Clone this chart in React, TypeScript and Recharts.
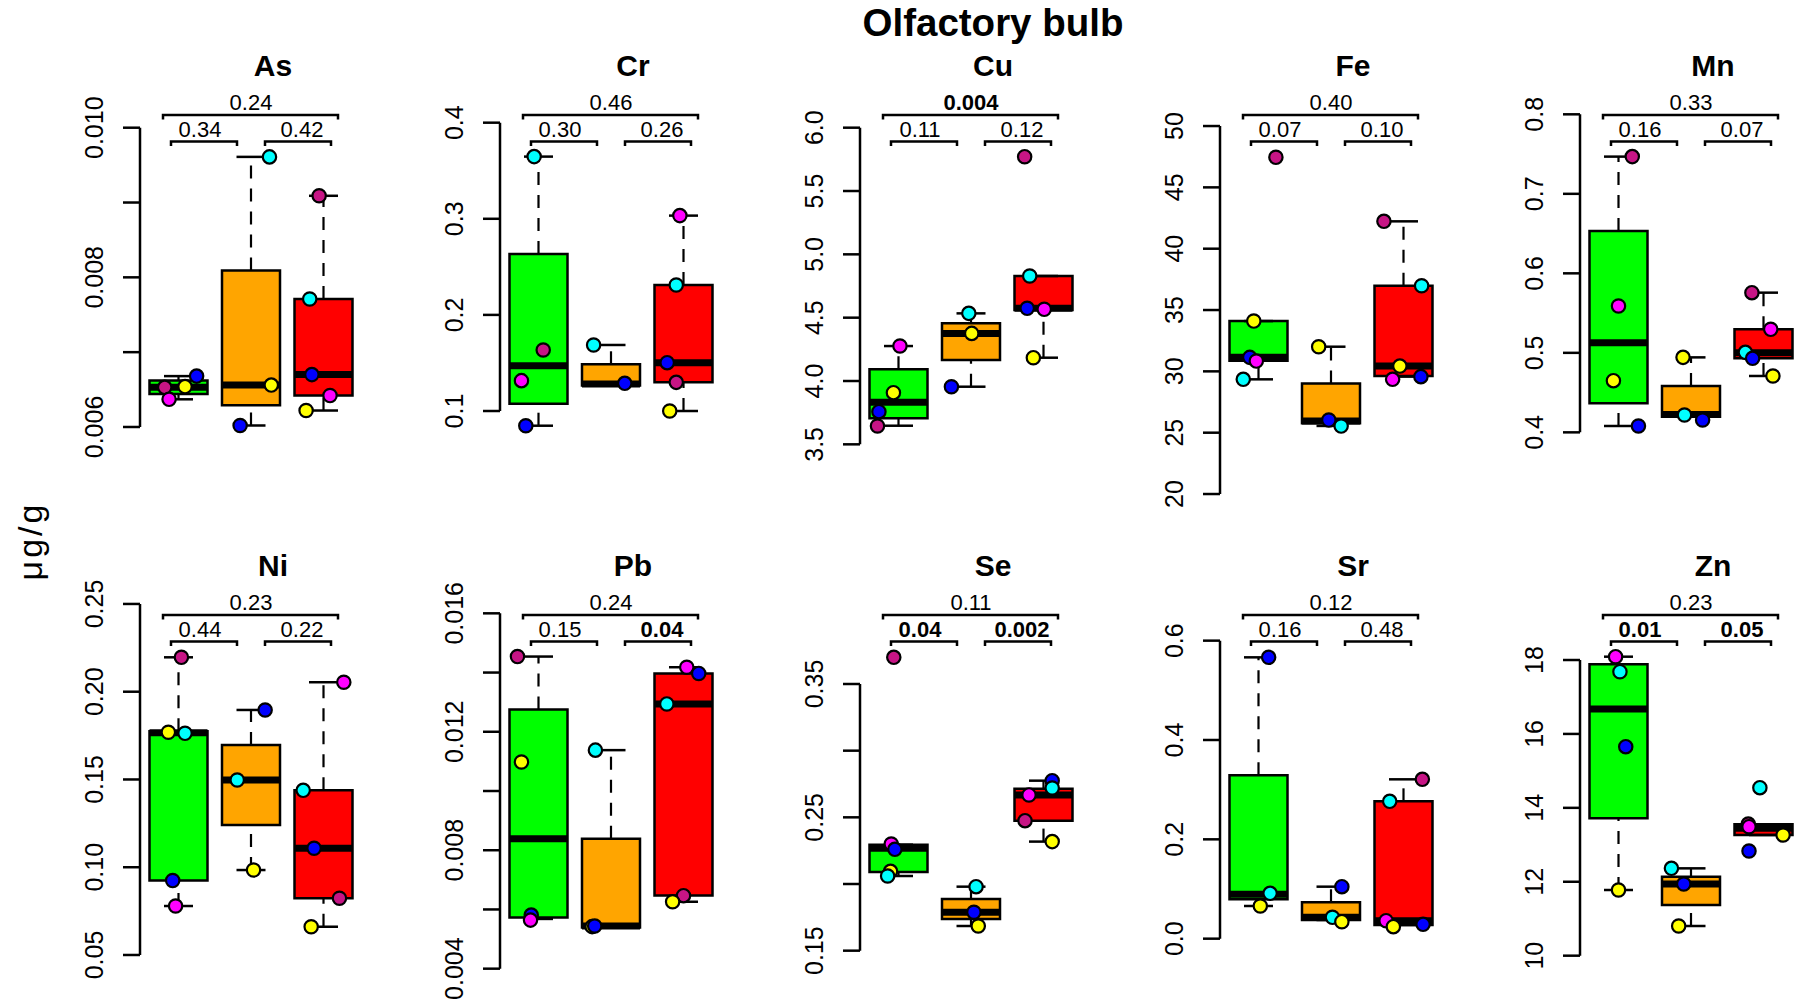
import { ComposedChart, Scatter, XAxis, YAxis, ZAxis, Cell, ReferenceArea, ReferenceLine } from 'recharts'

const FONT = '"Liberation Sans", Arial, Helvetica, sans-serif'

// group colours (left to right) and one colour per animal
const groupFill = ['#00ff00', '#ffa500', '#ff0000']
const animalColor: Record<string, string> = {
  mv: '#c71585', mg: '#ff00ff', ye: '#ffff00', cy: '#00ffff', bl: '#0000ff',
}

// box rows: [lower whisker, Q1, median, Q3, upper whisker] for green, orange, red
// points: [group, horizontal jitter, value, animal]
const asBox = [[0.00637, 0.00644, 0.00653, 0.00662, 0.00668], [0.00602, 0.00629, 0.00656, 0.00809, 0.00961], [0.00622, 0.00642, 0.0067, 0.00771, 0.00909]]
const asPts = [[0, -0.19, 0.00653, 'mv'], [0, -0.13, 0.00637, 'mg'], [0, 0.09, 0.00654, 'ye'], [0, 0.25, 0.00668, 'bl'], [1, 0.255, 0.00961, 'cy'], [1, 0.28, 0.00656, 'ye'], [1, -0.15, 0.00602, 'bl'], [2, -0.06, 0.00909, 'mv'], [2, -0.19, 0.00771, 'cy'], [2, -0.16, 0.0067, 'bl'], [2, 0.09, 0.00642, 'mg'], [2, -0.24, 0.00622, 'ye']]
const asTicks = [0.006, 0.007, 0.008, 0.009, 0.01]
const asLabels = ['0.006', '', '0.008', '', '0.010']
const asDomain = [0.005091, 0.010437]
const asP = ['0.34', '0.42', '0.24']

const crBox = [[0.0847, 0.1076, 0.1472, 0.2634, 0.3647], [0.1265, 0.1265, 0.128, 0.1486, 0.1687], [0.1, 0.1298, 0.1503, 0.2311, 0.3033]]
const crPts = [[0, -0.06, 0.3647, 'cy'], [0, 0.065, 0.1635, 'mv'], [0, -0.235, 0.1316, 'mg'], [0, -0.175, 0.0847, 'bl'], [1, -0.24, 0.1687, 'cy'], [1, 0.19, 0.1288, 'bl'], [2, -0.05, 0.3033, 'mg'], [2, -0.1, 0.2311, 'cy'], [2, -0.225, 0.1503, 'bl'], [2, -0.1, 0.1298, 'mv'], [2, -0.19, 0.1, 'ye']]
const crTicks = [0.1, 0.2, 0.3, 0.4]
const crLabels = ['0.1', '0.2', '0.3', '0.4']
const crDomain = [0.0126, 0.4288]
const crP = ['0.30', '0.26', '0.46']

const cuBox = [[3.647, 3.705, 3.832, 4.092, 4.276], [3.955, 4.166, 4.376, 4.455, 4.534], [4.184, 4.561, 4.575, 4.829, 4.829]]
const cuPts = [[0, 0.02, 4.276, 'mg'], [0, -0.07, 3.908, 'ye'], [0, -0.27, 3.758, 'bl'], [0, -0.29, 3.645, 'mv'], [1, -0.03, 4.534, 'cy'], [1, 0.01, 4.376, 'ye'], [1, -0.27, 3.955, 'bl'], [2, -0.26, 5.771, 'mv'], [2, -0.19, 4.829, 'cy'], [2, -0.225, 4.574, 'bl'], [2, 0.01, 4.566, 'mg'], [2, -0.14, 4.184, 'ye']]
const cuTicks = [3.5, 4, 4.5, 5, 5.5, 6]
const cuLabels = ['3.5', '4.0', '4.5', '5.0', '5.5', '6.0']
const cuDomain = [3.1, 6.258]
const cuP = ['0.11', '0.12', '0.004']

const feBox = [[29.35, 30.87, 31.14, 34.1, 34.1], [25.55, 25.76, 25.95, 29.02, 32.01], [29.57, 29.62, 30.43, 36.98, 42.23]]
const fePts = [[0, 0.24, 47.45, 'mv'], [0, -0.065, 34.1, 'ye'], [0, -0.12, 31.14, 'bl'], [0, -0.03, 30.84, 'mg'], [0, -0.21, 29.35, 'cy'], [1, -0.17, 32.01, 'ye'], [1, -0.03, 26.03, 'bl'], [1, 0.14, 25.54, 'cy'], [2, -0.27, 42.23, 'mv'], [2, 0.25, 36.98, 'cy'], [2, -0.05, 30.43, 'ye'], [2, -0.15, 29.35, 'mg'], [2, 0.24, 29.57, 'bl']]
const feTicks = [20, 25, 30, 35, 40, 45, 50]
const feLabels = ['20', '25', '30', '35', '40', '45', '50']
const feDomain = [19.92, 52.53]
const feP = ['0.07', '0.10', '0.40']

const mnBox = [[0.408, 0.4365, 0.5128, 0.6532, 0.7468], [0.4197, 0.4197, 0.4226, 0.4583, 0.4943], [0.4709, 0.4931, 0.5002, 0.5296, 0.5757]]
const mnPts = [[0, 0.19, 0.7468, 'mv'], [0, 0, 0.5589, 'mg'], [0, -0.07, 0.465, 'ye'], [0, 0.275, 0.408, 'bl'], [1, -0.11, 0.4943, 'ye'], [1, -0.09, 0.4218, 'cy'], [1, 0.16, 0.4155, 'bl'], [2, -0.16, 0.5757, 'mv'], [2, 0.1, 0.5296, 'mg'], [2, -0.25, 0.5006, 'cy'], [2, -0.15, 0.4931, 'bl'], [2, 0.13, 0.4709, 'ye']]
const mnTicks = [0.4, 0.5, 0.6, 0.7, 0.8]
const mnLabels = ['0.4', '0.5', '0.6', '0.7', '0.8']
const mnDomain = [0.3212, 0.8243]
const mnP = ['0.16', '0.07', '0.33']

const niBox = [[0.0779, 0.0924, 0.1766, 0.1775, 0.2196], [0.0984, 0.1241, 0.1497, 0.1697, 0.1896], [0.0661, 0.0823, 0.1108, 0.1438, 0.2054]]
const niPts = [[0, 0.04, 0.2196, 'mv'], [0, -0.14, 0.1769, 'ye'], [0, 0.09, 0.1763, 'cy'], [0, -0.08, 0.0924, 'bl'], [0, -0.04, 0.0779, 'mg'], [1, 0.195, 0.1896, 'bl'], [1, -0.19, 0.1497, 'cy'], [1, 0.035, 0.0984, 'ye'], [2, 0.28, 0.2054, 'mg'], [2, -0.28, 0.1438, 'cy'], [2, -0.13, 0.1108, 'bl'], [2, 0.22, 0.0823, 'mv'], [2, -0.17, 0.0661, 'ye']]
const niTicks = [0.05, 0.1, 0.15, 0.2, 0.25]
const niLabels = ['0.05', '0.10', '0.15', '0.20', '0.25']
const niDomain = [0.0272, 0.2551]
const niP = ['0.44', '0.22', '0.23']

const pbBox = [[0.00568, 0.00573, 0.00839, 0.01275, 0.01454], [0.00539, 0.00539, 0.00544, 0.00839, 0.01138], [0.00626, 0.00647, 0.01294, 0.01397, 0.01418]]
const pbPts = [[0, -0.29, 0.01454, 'mv'], [0, -0.235, 0.01098, 'ye'], [0, -0.1, 0.00581, 'bl'], [0, -0.11, 0.00564, 'mg'], [1, -0.215, 0.01138, 'cy'], [1, -0.26, 0.00542, 'ye'], [1, -0.225, 0.00544, 'bl'], [2, 0.045, 0.01418, 'mg'], [2, 0.21, 0.01397, 'bl'], [2, -0.23, 0.01294, 'cy'], [2, 0, 0.006465, 'mv'], [2, -0.15, 0.00626, 'ye']]
const pbTicks = [0.004, 0.006, 0.008, 0.01, 0.012, 0.014, 0.016]
const pbLabels = ['0.004', '', '0.008', '', '0.012', '', '0.016']
const pbDomain = [0.003111, 0.016619]
const pbP = ['0.15', '0.04', '0.24']

const seBox = [[0.206, 0.209, 0.2268, 0.2295, 0.2295], [0.1685, 0.1738, 0.1788, 0.1888, 0.198], [0.2318, 0.2475, 0.2668, 0.2715, 0.2775]]
const sePts = [[0, -0.065, 0.37, 'mv'], [0, -0.1, 0.23, 'mg'], [0, -0.05, 0.226, 'bl'], [0, -0.11, 0.2095, 'ye'], [0, -0.15, 0.206, 'cy'], [1, 0.07, 0.198, 'cy'], [1, 0.04, 0.1788, 'bl'], [1, 0.1, 0.1685, 'ye'], [2, 0.12, 0.2775, 'bl'], [2, 0.12, 0.272, 'cy'], [2, -0.2, 0.2668, 'mg'], [2, -0.255, 0.2475, 'mv'], [2, 0.12, 0.2318, 'ye']]
const seTicks = [0.15, 0.2, 0.25, 0.3, 0.35]
const seLabels = ['0.15', '', '0.25', '', '0.35']
const seDomain = [0.11675, 0.41675]
const seP = ['0.04', '0.002', '0.11']

const srBox = [[0.0658, 0.0792, 0.0893, 0.3289, 0.5664], [0.0376, 0.0376, 0.043, 0.0732, 0.1047], [0.0275, 0.0275, 0.0362, 0.2765, 0.3208]]
const srPts = [[0, 0.14, 0.5664, 'bl'], [0, 0.16, 0.0913, 'cy'], [0, 0.025, 0.0658, 'ye'], [1, 0.15, 0.1047, 'bl'], [1, 0.02, 0.043, 'cy'], [1, 0.15, 0.0342, 'ye'], [2, 0.26, 0.3208, 'mv'], [2, -0.19, 0.2765, 'cy'], [2, -0.24, 0.0362, 'mg'], [2, -0.14, 0.0242, 'ye'], [2, 0.27, 0.0289, 'bl']]
const srTicks = [0, 0.2, 0.4, 0.6]
const srLabels = ['0.0', '0.2', '0.4', '0.6']
const srDomain = [-0.1134, 0.6919]
const srP = ['0.16', '0.48', '0.12']

const znBox = [[11.777, 13.716, 16.674, 17.883, 18.09], [10.803, 11.371, 11.939, 12.138, 12.363], [13.265, 13.265, 13.445, 13.554, 13.554]]
const znPts = [[0, -0.04, 18.09, 'mg'], [0, 0.02, 17.684, 'cy'], [0, 0.1, 15.655, 'bl'], [0, 0, 11.777, 'ye'], [1, -0.27, 12.363, 'cy'], [1, -0.1, 11.939, 'bl'], [1, -0.17, 10.803, 'ye'], [2, -0.05, 14.546, 'cy'], [2, -0.21, 13.563, 'mv'], [2, -0.2, 13.49, 'mg'], [2, 0.27, 13.265, 'ye'], [2, -0.2, 12.832, 'bl']]
const znTicks = [10, 12, 14, 16, 18]
const znLabels = ['10', '12', '14', '16', '18']
const znDomain = [8.936, 19.759]
const znP = ['0.01', '0.05', '0.23']

type PanelDef = {
  name: string; box: number[][]; pts: (number | string)[][]
  ticks: number[]; labels: string[]; domain: number[]; p: string[]
}

const panels: PanelDef[] = [
  { name: 'As', box: asBox, pts: asPts, ticks: asTicks, labels: asLabels, domain: asDomain, p: asP },
  { name: 'Cr', box: crBox, pts: crPts, ticks: crTicks, labels: crLabels, domain: crDomain, p: crP },
  { name: 'Cu', box: cuBox, pts: cuPts, ticks: cuTicks, labels: cuLabels, domain: cuDomain, p: cuP },
  { name: 'Fe', box: feBox, pts: fePts, ticks: feTicks, labels: feLabels, domain: feDomain, p: feP },
  { name: 'Mn', box: mnBox, pts: mnPts, ticks: mnTicks, labels: mnLabels, domain: mnDomain, p: mnP },
  { name: 'Ni', box: niBox, pts: niPts, ticks: niTicks, labels: niLabels, domain: niDomain, p: niP },
  { name: 'Pb', box: pbBox, pts: pbPts, ticks: pbTicks, labels: pbLabels, domain: pbDomain, p: pbP },
  { name: 'Se', box: seBox, pts: sePts, ticks: seTicks, labels: seLabels, domain: seDomain, p: seP },
  { name: 'Sr', box: srBox, pts: srPts, ticks: srTicks, labels: srLabels, domain: srDomain, p: srP },
  { name: 'Zn', box: znBox, pts: znPts, ticks: znTicks, labels: znLabels, domain: znDomain, p: znP },
]

const X_DOMAIN = [0.469, 3.531]
const HALF_BOX = 0.4
const HALF_CAP = 0.2
const LINE = 2.5
const DOT_AREA = 140 // symbol area in px²

const YTick = ({ x, y, payload, labels, ticks }: any) => {
  const idx = ticks.findIndex((t: number) => Math.abs(t - payload.value) < 1e-9)
  const txt = idx >= 0 ? labels[idx] : ''
  if (!txt) return null
  return (
    <text x={x} y={y} transform={`rotate(-90, ${x}, ${y})`} textAnchor="middle"
      fontFamily={FONT} fontSize={25} fill="#000">{txt}</text>
  )
}

const isSig = (s: string) => parseFloat(s) <= 0.05

function Bracket({ x1, x2, y, drop }: { x1: number; x2: number; y: number; drop: number }) {
  return (
    <path d={`M${x1},${y + drop} L${x1},${y} L${x2},${y} L${x2},${y + drop}`}
      fill="none" stroke="#000" strokeWidth={LINE} />
  )
}

function Panel({ def, left, top }: { def: PanelDef; left: number; top: number }) {
  const data = def.pts.map(([g, j, v, a]) => ({
    x: (g as number) + 1 + (j as number), y: v as number, z: 1, fill: animalColor[a as string],
  }))
  const t0 = def.ticks[0]
  const t1 = def.ticks[def.ticks.length - 1]
  const pText = (s: string, x: number, y: number) => (
    <text x={x} y={y} textAnchor="middle" fontFamily={FONT} fontSize={22}
      fontWeight={isSig(s) ? 'bold' : 'normal'} fill="#000">{s}</text>
  )
  return (
    <div style={{ position: 'absolute', left, top, width: 370, height: 530 }}>
      <ComposedChart width={370} height={530} margin={{ top: 95, right: 8, bottom: 35, left: 80 }}>
        <XAxis type="number" dataKey="x" domain={X_DOMAIN} hide allowDataOverflow />
        <YAxis type="number" dataKey="y" domain={def.domain} ticks={def.ticks} interval={0}
          width={60} axisLine={false} tickSize={17} tickMargin={20} allowDataOverflow
          tickLine={{ stroke: '#000', strokeWidth: LINE }}
          tick={<YTick labels={def.labels} ticks={def.ticks} />} />
        <ZAxis type="number" dataKey="z" domain={[0, 2]} range={[DOT_AREA, DOT_AREA]} />
        <ReferenceLine segment={[{ x: X_DOMAIN[0], y: t0 }, { x: X_DOMAIN[0], y: t1 }]}
          stroke="#000" strokeWidth={LINE} ifOverflow="visible" />
        {def.box.map(([lo, q1, med, q3, hi], i) => {
          const c = i + 1
          return [
            <ReferenceLine key={`wu${i}`} segment={[{ x: c, y: q3 }, { x: c, y: hi }]}
              stroke="#000" strokeWidth={2.2} strokeDasharray="13 10" />,
            <ReferenceLine key={`wl${i}`} segment={[{ x: c, y: lo }, { x: c, y: q1 }]}
              stroke="#000" strokeWidth={2.2} strokeDasharray="13 10" />,
            <ReferenceLine key={`cu${i}`} segment={[{ x: c - HALF_CAP, y: hi }, { x: c + HALF_CAP, y: hi }]}
              stroke="#000" strokeWidth={LINE} />,
            <ReferenceLine key={`cl${i}`} segment={[{ x: c - HALF_CAP, y: lo }, { x: c + HALF_CAP, y: lo }]}
              stroke="#000" strokeWidth={LINE} />,
            <ReferenceArea key={`b${i}`} x1={c - HALF_BOX} x2={c + HALF_BOX} y1={q1} y2={q3}
              fill={groupFill[i]} fillOpacity={1} stroke="#000" strokeWidth={LINE} />,
            <ReferenceLine key={`m${i}`} segment={[{ x: c - HALF_BOX, y: med }, { x: c + HALF_BOX, y: med }]}
              stroke="#000" strokeWidth={7} />,
          ]
        })}
        <Scatter data={data} shape="circle" stroke="#000" strokeWidth={2.2} isAnimationActive={false}>
          {data.map((d, i) => <Cell key={i} fill={d.fill} />)}
        </Scatter>
      </ComposedChart>
      <svg width={370} height={500} style={{ position: 'absolute', left: 0, top: 0, pointerEvents: 'none' }}>
        <text x={273} y={76} textAnchor="middle" fontFamily={FONT} fontSize={30} fontWeight="bold">{def.name}</text>
        <Bracket x1={163} x2={338} y={115} drop={4.5} />
        <Bracket x1={171} x2={237} y={141.5} drop={4.5} />
        <Bracket x1={265} x2={331} y={141.5} drop={4.5} />
        {pText(def.p[2], 251, 110)}
        {pText(def.p[0], 200, 137)}
        {pText(def.p[1], 302, 137)}
      </svg>
    </div>
  )
}

export default function App() {
  return (
    <div style={{ position: 'absolute', left: 0, top: 0, width: 1800, height: 1007, background: '#fff', overflow: 'hidden' }}>
      {panels.map((def, i) => (
        <Panel key={def.name} def={def} left={360 * (i % 5)} top={500 * Math.floor(i / 5)} />
      ))}
      <svg width={1800} height={1007} style={{ position: 'absolute', left: 0, top: 0, pointerEvents: 'none' }}>
        <text x={993} y={36} textAnchor="middle" fontFamily={FONT} fontSize={38.5} fontWeight="bold">Olfactory bulb</text>
        <text x={42} y={541} transform="rotate(-90, 42, 541)" textAnchor="middle" fontFamily={FONT}
          fontSize={34} letterSpacing={3}>μg/g</text>
      </svg>
    </div>
  )
}
